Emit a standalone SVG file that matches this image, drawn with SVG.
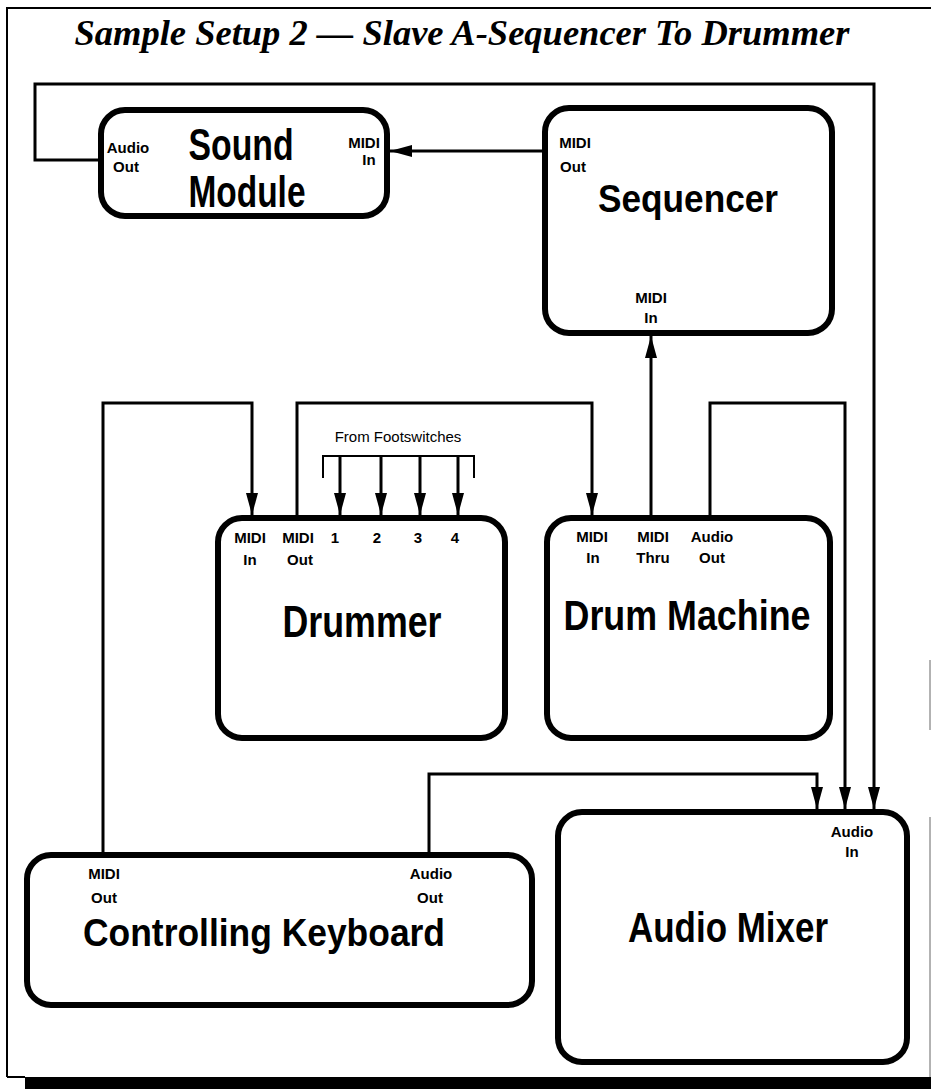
<svg xmlns="http://www.w3.org/2000/svg" width="931" height="1089" viewBox="0 0 931 1089">
<style>
.box{fill:#fff;stroke:#000;stroke-width:6}
.wire{fill:none;stroke:#000;stroke-width:3}
.big{font-family:"Liberation Sans",Arial,sans-serif;font-weight:bold;text-anchor:middle;fill:#000}
.sm{font-family:"Liberation Sans",Arial,sans-serif;font-weight:bold;font-size:15px;text-anchor:middle;fill:#000}
.note{font-family:"Liberation Sans",Arial,sans-serif;font-size:15px;text-anchor:middle;fill:#000}
.title{font-family:"Liberation Serif","Times New Roman",serif;font-weight:bold;font-style:italic;font-size:36px;text-anchor:middle;fill:#000}
</style>
<defs>
<marker id="ah" markerUnits="userSpaceOnUse" markerWidth="24" markerHeight="14" refX="22" refY="7" orient="auto"><path d="M0,1 L22,7 L0,13 z" fill="#000"/></marker>
</defs>
<rect width="931" height="1089" fill="#fff"/>
<g id="frame">
<path d="M7,1077 V8 H931" fill="none" stroke="#000" stroke-width="2"/>
<path d="M7,1077 H25" fill="none" stroke="#000" stroke-width="2"/>
<rect x="25" y="1077" width="906" height="12" fill="#000"/>
<path d="M930,660 V730 M930,817 V1077" fill="none" stroke="#666" stroke-width="1"/>
<text class="title" x="462" y="45" textLength="775" lengthAdjust="spacingAndGlyphs">Sample Setup 2 — Slave A-Sequencer To Drummer</text>
</g>
<g id="connectors">
<path class="wire" d="M101,160 H35 V84 H874 V809" marker-end="url(#ah)"/>
<path class="wire" d="M545,151 H390" marker-end="url(#ah)"/>
<path class="wire" d="M651,518 V336" marker-end="url(#ah)"/>
<path class="wire" d="M103,855 V403 H252 V515" marker-end="url(#ah)"/>
<path class="wire" d="M297,518 V403 H592 V515" marker-end="url(#ah)"/>
<path class="wire" d="M710,518 V403 H845 V809" marker-end="url(#ah)"/>
<path class="wire" d="M429,855 V774 H817 V809" marker-end="url(#ah)"/>
<path d="M323,478 V456 H474 V478" fill="none" stroke="#000" stroke-width="2"/>
<path class="wire" d="M340,456 V515" marker-end="url(#ah)"/>
<path class="wire" d="M381,456 V515" marker-end="url(#ah)"/>
<path class="wire" d="M420,456 V515" marker-end="url(#ah)"/>
<path class="wire" d="M458,456 V515" marker-end="url(#ah)"/>
<text class="note" x="398" y="442">From Footswitches</text>
</g>
<g id="sound-module">
<rect class="box" x="101" y="110" width="286" height="106" rx="24"/>
<text class="big" x="241" y="160" font-size="44" textLength="105" lengthAdjust="spacingAndGlyphs">Sound</text>
<text class="big" x="247" y="207" font-size="44" textLength="117" lengthAdjust="spacingAndGlyphs">Module</text>
<text class="sm" x="128" y="153">Audio</text>
<text class="sm" x="126" y="172">Out</text>
<text class="sm" x="364" y="148">MIDI</text>
<text class="sm" x="369" y="165">In</text>
</g>
<g id="sequencer">
<rect class="box" x="545" y="108" width="287" height="225" rx="24"/>
<text class="sm" x="575" y="148">MIDI</text>
<text class="sm" x="573" y="172">Out</text>
<text class="big" x="688" y="212" font-size="38" textLength="180" lengthAdjust="spacingAndGlyphs">Sequencer</text>
<text class="sm" x="651" y="303">MIDI</text>
<text class="sm" x="651" y="323">In</text>
</g>
<g id="drummer">
<rect class="box" x="218" y="518" width="287" height="220" rx="24"/>
<text class="sm" x="250" y="543">MIDI</text>
<text class="sm" x="250" y="565">In</text>
<text class="sm" x="298" y="543">MIDI</text>
<text class="sm" x="300" y="565">Out</text>
<text class="sm" x="335" y="543">1</text>
<text class="sm" x="377" y="543">2</text>
<text class="sm" x="418" y="543">3</text>
<text class="sm" x="455" y="543">4</text>
<text class="big" x="362" y="637" font-size="44" textLength="159" lengthAdjust="spacingAndGlyphs">Drummer</text>
</g>
<g id="drum-machine">
<rect class="box" x="547" y="518" width="283" height="220" rx="24"/>
<text class="sm" x="592" y="542">MIDI</text>
<text class="sm" x="593" y="563">In</text>
<text class="sm" x="653" y="542">MIDI</text>
<text class="sm" x="653" y="563">Thru</text>
<text class="sm" x="712" y="542">Audio</text>
<text class="sm" x="712" y="563">Out</text>
<text class="big" x="687" y="630" font-size="42" textLength="247" lengthAdjust="spacingAndGlyphs">Drum Machine</text>
</g>
<g id="controlling-keyboard">
<rect class="box" x="27" y="855" width="505" height="150" rx="24"/>
<text class="sm" x="104" y="879">MIDI</text>
<text class="sm" x="104" y="903">Out</text>
<text class="sm" x="431" y="879">Audio</text>
<text class="sm" x="430" y="903">Out</text>
<text class="big" x="264" y="946" font-size="38" textLength="362" lengthAdjust="spacingAndGlyphs">Controlling Keyboard</text>
</g>
<g id="audio-mixer">
<rect class="box" x="558" y="812" width="349" height="250" rx="24"/>
<text class="sm" x="852" y="837">Audio</text>
<text class="sm" x="852" y="857">In</text>
<text class="big" x="728" y="942" font-size="42" textLength="200" lengthAdjust="spacingAndGlyphs">Audio Mixer</text>
</g>
</svg>
